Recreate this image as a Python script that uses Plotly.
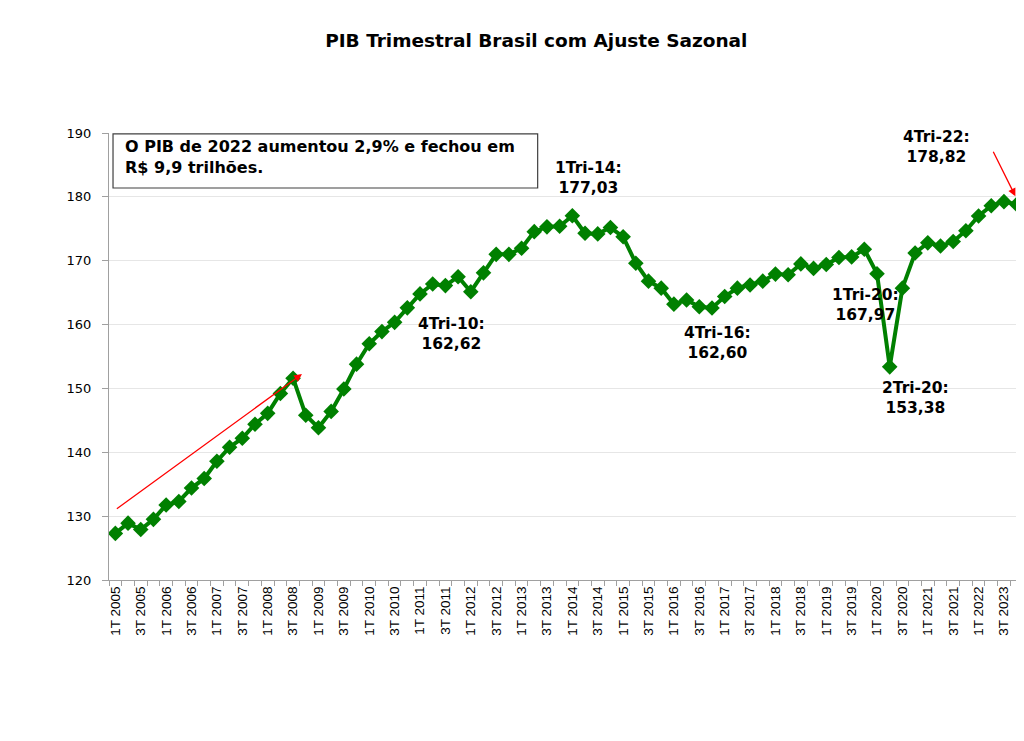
import plotly.graph_objects as go

# Quarterly GDP index (seasonally adjusted), 1T 2005 .. 4T 2022
pib = [127.3, 128.9, 127.9, 129.5, 131.75, 132.3, 134.4, 135.9, 138.6, 140.8,
       142.2, 144.4, 146.1, 149.2, 151.6, 145.8, 143.85, 146.4, 149.9, 153.8,
       157.0, 158.9, 160.35, 162.62, 164.8, 166.35, 166.1, 167.5, 165.15, 168.1,
       171.0, 171.0, 171.95, 174.55, 175.3, 175.4, 177.03, 174.3, 174.2, 175.2,
       173.75, 169.6, 166.8, 165.7, 163.2, 163.85, 162.8, 162.60, 164.4, 165.7,
       166.2, 166.8, 167.9, 167.8, 169.5, 168.8, 169.4, 170.5, 170.6, 171.8,
       167.97, 153.38, 165.7, 171.2, 172.8, 172.3, 173.0, 174.7, 177.0, 178.6,
       179.25, 178.82]

tick_labels = ["1T 2005", "3T 2005", "1T 2006", "3T 2006", "1T 2007", "3T 2007",
               "1T 2008", "3T 2008", "1T 2009", "3T 2009", "1T 2010", "3T 2010",
               "1T 2011", "3T 2011", "1T 2012", "3T 2012", "1T 2013", "3T 2013",
               "1T 2014", "3T 2014", "1T 2015", "3T 2015", "1T 2016", "3T 2016",
               "1T 2017", "3T 2017", "1T 2018", "3T 2018", "1T 2019", "3T 2019",
               "1T 2020", "3T 2020", "1T 2021", "3T 2021", "1T 2022", "3T 2023"]

y_ticks = [120, 130, 140, 150, 160, 170, 180, 190]

# annotated points: (label, value, text x, text y)
notes = [
    ("1Tri-14:", "177,03", 37.3, 182.95),
    ("4Tri-10:", "162,62", 26.5, 158.5),
    ("4Tri-16:", "162,60", 47.4, 157.1),
    ("1Tri-20:", "167,97", 59.1, 163.1),
    ("2Tri-20:", "153,38", 63.0, 148.5),
    ("4Tri-22:", "178,82", 64.7, 187.8),
]

FONT = "Arial, Liberation Sans, sans-serif"
WIDE = "DejaVu Sans, Verdana, sans-serif"
GREEN = "#008000"

idx = list(range(len(pib)))

fig = go.Figure()
fig.add_trace(go.Scatter(
    x=idx, y=pib, mode="lines+markers",
    line=dict(color=GREEN, width=4),
    marker=dict(symbol="diamond", size=12, color=GREEN),
    showlegend=False,
))

annotations = []
for a, b, tx, ty in notes:
    annotations.append(dict(
        x=tx, y=ty, xref="x", yref="y", text=f"{a}<br>{b}", showarrow=False,
        font=dict(family=WIDE, size=15.5, color="black", weight="bold"),
        align="center", xanchor="center", yanchor="middle",
    ))

# text box
annotations.append(dict(
    x=0.0153, y=0.946, xref="paper", yref="paper",
    text="O PIB de 2022 aumentou 2,9% e fechou em<br>R$ 9,9 trilhões.",
    showarrow=False, align="left", xanchor="left", yanchor="middle",
    font=dict(family=WIDE, size=16, color="black", weight="bold"),
))

# red arrows
annotations.append(dict(
    x=14.7, y=152.26, ax=0.0, ay=131.0, xref="x", yref="y", axref="x", ayref="y",
    text="", showarrow=True, arrowhead=2, arrowsize=1.2, arrowwidth=1.3,
    arrowcolor="#ff0000",
))
annotations.append(dict(
    x=70.9, y=180.1, ax=69.1, ay=187.3, xref="x", yref="y", axref="x", ayref="y",
    text="", showarrow=True, arrowhead=2, arrowsize=1.2, arrowwidth=1.3,
    arrowcolor="#ff0000",
))

fig.update_layout(
    width=1016, height=733,
    margin=dict(l=101, r=1, t=125, b=161),
    paper_bgcolor="white", plot_bgcolor="white",
    title=dict(text="<b>PIB Trimestral Brasil com Ajuste Sazonal</b>",
               x=0.52, xanchor="center", y=0.956, yanchor="middle",
               font=dict(family=WIDE, size=18.5, color="black")),
    font=dict(family=FONT, color="black"),
    annotations=annotations,
    shapes=[dict(type="rect", xref="paper", yref="paper",
                 x0=0.0044, x1=0.469, y0=0.877, y1=0.998,
                 line=dict(color="#404040", width=1.2), fillcolor="white",
                 layer="below")],
)

fig.update_xaxes(
    range=[-0.5, len(pib) - 0.5],
    tickmode="array", tickvals=idx[::2], ticktext=tick_labels,
    tickangle=-90, tickfont=dict(family=FONT, size=13.5, color="black"),
    ticks="", showgrid=False, zeroline=False,
    showline=True, linecolor="#a0a0a0", linewidth=1,
    minor=dict(tickvals=[i + 0.5 for i in range(-1, len(pib))], ticks="outside",
               ticklen=5, tickcolor="#a0a0a0", showgrid=False),
)
fig.update_yaxes(
    range=[120, 190], tickmode="array", tickvals=y_ticks,
    tickfont=dict(family=WIDE, size=13, color="black"),
    ticks="outside", ticklen=6, tickcolor="#a0a0a0", ticklabelstandoff=8,
    showgrid=True, gridcolor="#e6e6e6", gridwidth=1, zeroline=False,
    showline=True, linecolor="#a0a0a0", linewidth=1,
)

fig.write_html("out.html")
